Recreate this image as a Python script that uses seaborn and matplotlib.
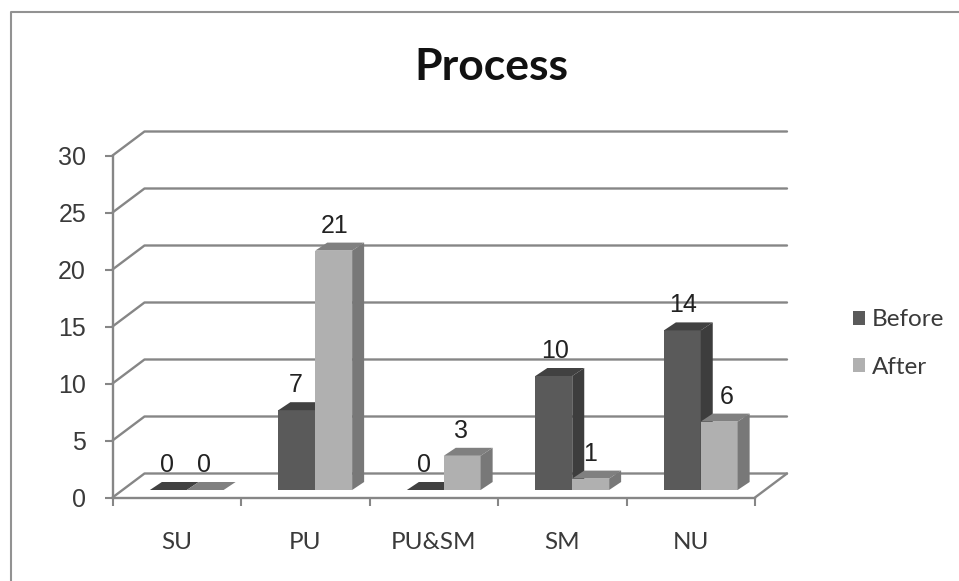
import matplotlib
matplotlib.use("Agg")
import matplotlib.pyplot as plt
import pandas as pd
import seaborn as sns
from matplotlib.lines import Line2D
from matplotlib.patches import Polygon
from matplotlib.transforms import ScaledTranslation

categories = ["SU", "PU", "PU&SM", "SM", "NU"]
before = [0, 7, 0, 10, 14]
after = [0, 21, 3, 1, 6]
y_ticks = [0, 5, 10, 15, 20, 25, 30]

TITLE_FONT = "Lato"
BODY_FONT = "Lato"
NUMBER_FONT = "Liberation Sans"
LINE = "#868686"
INK = "#3a3a3a"
FRONT = {"Before": "#5a5a5a", "After": "#b0b0b0"}
TOP = {"Before": "#414141", "After": "#808080"}
SIDE = {"Before": "#3d3d3d", "After": "#787878"}

W, H = 959, 581
DPI = 100


def px_shift(fig, dx, dy):
    return ScaledTranslation(dx / DPI, dy / DPI, fig.dpi_scale_trans)


sns.set_theme(style="white")
df = pd.DataFrame({
    "Category": categories * 2,
    "Count": before + after,
    "Period": ["Before"] * len(before) + ["After"] * len(after),
})

fig = plt.figure(figsize=(W / DPI, H / DPI), dpi=DPI, facecolor="white")
ax = fig.add_axes([112.5 / W, (H - 497.5) / H, 642.5 / W, 342 / H])
ax.patch.set_alpha(0)

sns.barplot(data=df, x="Category", y="Count", hue="Period", palette=FRONT,
            saturation=1, width=0.574, gap=0, dodge=True, ax=ax, linewidth=0)
ax.set_xlim(-0.5, 4.5)
ax.set_ylim(0, 30)
ax.set_xlabel("")
ax.set_ylabel("")

# Receding wall: each value level runs up the side wall and along the back.
wall = ax.transData + px_shift(fig, 32, 24)
for v in y_ticks:
    p0 = ax.transData.transform((-0.5, v))
    p1 = wall.transform((-0.5, v))
    p2 = wall.transform((4.5, v))
    xs, ys = zip(p0, p1, p2)
    fig.add_artist(Line2D([x / W for x in xs], [y / H for y in ys], color=LINE, lw=1.7,
                          transform=fig.transFigure, zorder=0))
# Right edge of the floor.
p0 = ax.transData.transform((4.5, 0))
p1 = wall.transform((4.5, 0))
fig.add_artist(Line2D([p0[0] / W, p1[0] / W], [p0[1] / H, p1[1] / H], color=LINE, lw=1.7,
                      transform=fig.transFigure, zorder=0))

# Bars stand slightly inside the floor; extrude them with top and side faces.
stand = ax.transData + px_shift(fig, 10, 7.5)
depth_x = 12 / (642.5 / 5)
depth_y = 8 / (342 / 30)
label_nudge = {("After", "NU"): 8, ("Before", "NU"): 2, ("After", "PU"): 2, ("Before", "SM"): 2}

for order, (name, container) in enumerate(zip(["Before", "After"], ax.containers)):
    z = 3 + order
    for cat, bar in zip(categories, container):
        x0, w, h = bar.get_x(), bar.get_width(), bar.get_height()
        bar.set_transform(stand)
        bar.set_zorder(z)
        bar.set_clip_on(False)
        top = Polygon([(x0, h), (x0 + depth_x, h + depth_y),
                       (x0 + w + depth_x, h + depth_y), (x0 + w, h)],
                      closed=True, fc=TOP[name], ec="none", transform=stand,
                      zorder=z, clip_on=False)
        side = Polygon([(x0 + w, 0), (x0 + w + depth_x, depth_y),
                        (x0 + w + depth_x, h + depth_y), (x0 + w, h)],
                       closed=True, fc=SIDE[name], ec="none", transform=stand,
                       zorder=z, clip_on=False)
        ax.add_patch(top)
        ax.add_patch(side)
        # Value labels float above the front edge of each bar.
        label_at = stand + px_shift(fig, label_nudge.get((name, cat), 0) - 1, 25)
        ax.text(x0 + w / 2, h, f"{h:.0f}", transform=label_at, ha="center", va="center",
                family=NUMBER_FONT, fontsize=18, color="#222222", zorder=6, clip_on=False)

sns.despine(ax=ax, top=True, right=True)
for s in ("left", "bottom"):
    ax.spines[s].set_color(LINE)
    ax.spines[s].set_linewidth(1.7)

ax.set_yticks(y_ticks)
ax.set_yticklabels([str(v) for v in y_ticks], family=NUMBER_FONT, fontsize=18, color=INK)
ax.tick_params(axis="y", left=True, length=6, width=1.5, color=LINE, pad=13)
ax.set_xticks(range(len(categories)))
ax.set_xticklabels(categories, family=BODY_FONT, fontsize=17.5, color=INK)
ax.set_xticks([i - 0.5 for i in range(len(categories) + 1)], minor=True)
ax.tick_params(axis="x", which="major", bottom=False, pad=19)
ax.tick_params(axis="x", which="minor", bottom=True, length=6, width=1.5, color=LINE)

handles, labels = ax.get_legend_handles_labels()
ax.legend(handles, labels, loc="center left", bbox_to_anchor=(853 / W, (H - 343.5) / H),
          bbox_transform=fig.transFigure, frameon=False, prop={"family": BODY_FONT, "size": 17.5},
          labelcolor=INK, handlelength=0.5, handleheight=0.5, handletextpad=0.27,
          labelspacing=1.08, borderpad=0, borderaxespad=0)

fig.text(491 / W, (H - 66.5) / H, "Process", family=TITLE_FONT, weight="bold", fontsize=32,
         ha="center", va="center", color="#111111")

# Chart-area border along the top and left.
fig.add_artist(Line2D([1, 11 / W, 11 / W], [(H - 12) / H, (H - 12) / H, 0],
                      color="#929292", lw=1.5, transform=fig.transFigure))

fig.savefig("out.png", dpi=DPI, facecolor="white")
